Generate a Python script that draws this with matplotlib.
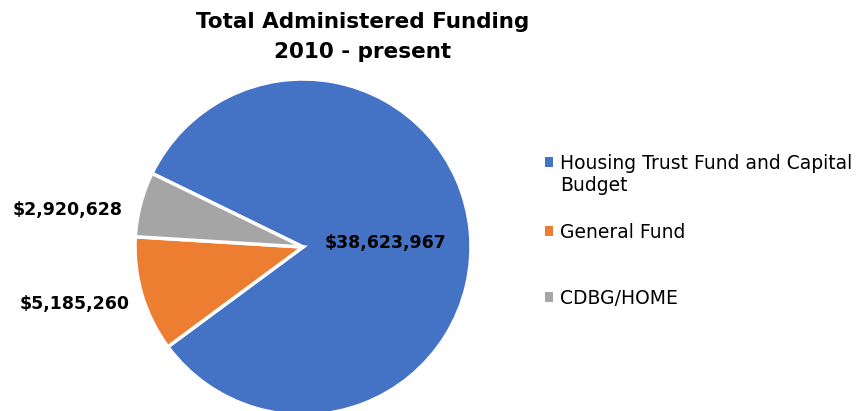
import matplotlib.pyplot as plt
from matplotlib.patches import Patch
from matplotlib.legend import Legend

# Data
labels = ['Housing Trust Fund and Capital\nBudget', 'General Fund', 'CDBG/HOME']
values = [38623967, 5185260, 2920628]
colors = ['#4472C4', '#ED7D31', '#A5A5A5']
value_labels = ['$38,623,967', '$5,185,260', '$2,920,628']

plt.rcParams['font.family'] = ['DejaVu Sans']

fig = plt.figure(figsize=(8.58, 4.11), dpi=100)
ax = fig.add_axes([0, 0, 1, 1])

wedges, _ = ax.pie(values, colors=colors, startangle=154, counterclock=False,
                   center=(303, 164), radius=168, frame=True,
                   wedgeprops=dict(edgecolor='white', linewidth=2.5))
ax.set_xlim(0, 858)
ax.set_ylim(0, 411)
ax.set_aspect('equal')
ax.axis('off')

# value labels
ax.text(385, 168, value_labels[0], ha='center', va='center', fontsize=12.5, fontweight='bold')
ax.text(75, 107, value_labels[1], ha='center', va='center', fontsize=12.5, fontweight='bold')
ax.text(68, 201, value_labels[2], ha='center', va='center', fontsize=12.5, fontweight='bold')

ax.text(363, 374, 'Total Administered Funding\n2010 - present', ha='center', va='center',
        fontsize=15.5, fontweight='bold', linespacing=1.6)

# legend, one entry at a time to keep Excel-like spacing
legend_y = [163, 232, 298]
for c, lab, y in zip(colors, labels, legend_y):
    leg = Legend(ax, [Patch(facecolor=c, edgecolor='none')], [lab.split('\n')[0]],
                 loc='center left', bbox_to_anchor=(545 / 858, 1 - y / 411),
                 frameon=False, fontsize=13.5, handlelength=0.4, handleheight=0.4,
                 handletextpad=0.4, borderpad=0, borderaxespad=0)
    ax.add_artist(leg)
ax.text(560, 411 - 186, 'Budget', ha='left', va='center', fontsize=13.5)

fig.savefig('out.png', dpi=100)
